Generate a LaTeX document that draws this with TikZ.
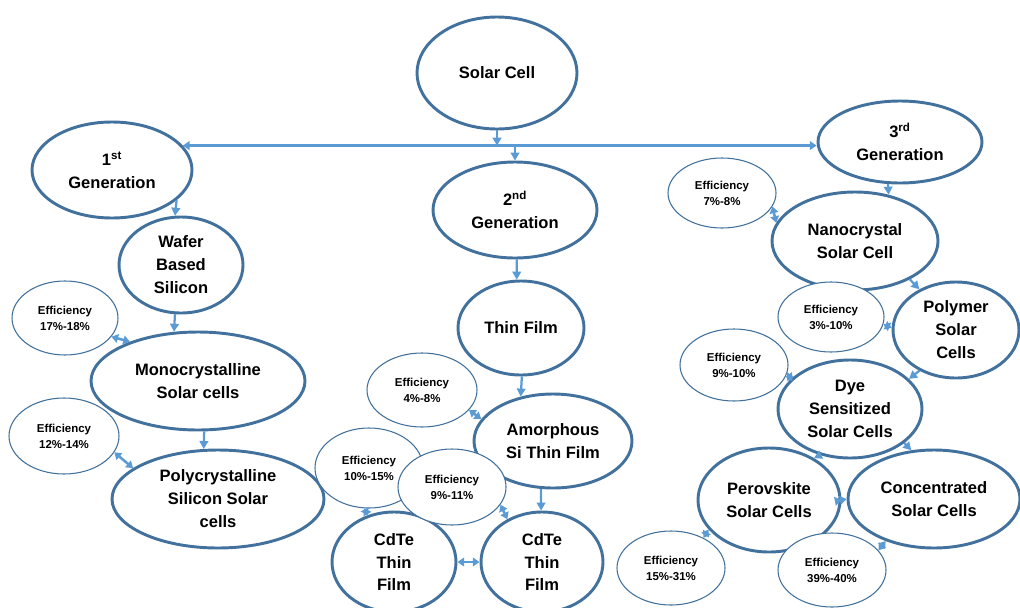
\documentclass[tikz,border=0pt]{standalone}
\usepackage{fontspec}
\setmainfont{Liberation Sans}
\usetikzlibrary{shapes.geometric, arrows.meta}
\definecolor{rim}{HTML}{41719C}
\definecolor{link}{HTML}{5B9BD5}

\begin{document}
\begin{tikzpicture}[x=0.75pt, y=-0.75pt,
        sz/.style 2 args={minimum width=#1*1.5pt, minimum height=#2*1.5pt},
        cell/.style={ellipse, draw=rim, line width=2.2pt, fill=white, inner sep=0pt,
                     align=center, font=\bfseries\fontsize{12.4}{17.2}\selectfont},
        eff/.style={ellipse, draw=rim, line width=0.8pt, fill=white, inner sep=0pt,
                    align=center, font=\bfseries\fontsize{8.6}{12}\selectfont},
        arr/.style={-{Triangle[length=6pt,width=6.5pt]}, draw=link, line width=1.7pt},
        darr/.style={{Triangle[length=5pt,width=6.5pt]}-{Triangle[length=5pt,width=6.5pt]},
                     draw=link, line width=1.9pt}
    ]
        \useasboundingbox (0,0) rectangle (1020,607);

        % main cells
        \node[cell, sz={80}{56}] (solar) at (497, 73) {Solar Cell};
        \node[cell, sz={80}{48}] (gen1) at (112,170) {1\textsuperscript{st}\\Generation};
        \node[cell, sz={82}{48}] (gen2) at (515,210) {2\textsuperscript{nd}\\Generation};
        \node[cell, sz={82}{41}] (gen3) at (900,142) {3\textsuperscript{rd}\\Generation};

        \node[cell, sz={62}{48}] (wafer) at (181,265) {Wafer\\Based\\Silicon};
        \node[cell, sz={107}{49}] (mono) at (198,381) {Monocrystalline\\Solar cells};
        \node[cell, sz={106}{49}] (poly) at (218,499) {Polycrystalline\\Silicon Solar\\cells};

        \node[cell, sz={63}{47}] (thin) at (521,328) {Thin Film};
        \node[cell, sz={79}{47}] (amor) at (553,441) {Amorphous\\Si Thin Film};
        \node[cell, sz={62}{50}] (cdte1) at (394,562) {CdTe\\Thin\\Film};
        \node[cell, sz={61}{50}] (cdte2) at (542,562) {CdTe\\Thin\\Film};

        \node[cell, sz={83}{49}] (nano) at (855,241) {Nanocrystal\\Solar Cell};
        \node[cell, sz={63}{48}] (polym) at (956,330) {Polymer\\Solar\\Cells};
        \node[cell, sz={72}{49}] (dye) at (850,409) {Dye\\Sensitized\\Solar Cells};
        \node[cell, sz={71}{52}] (perov) at (769,500) {Perovskite\\Solar Cells};
        \node[cell, sz={86}{49}] (conc) at (934,499) {Concentrated\\Solar Cells};

        % efficiency bubbles
        \node[eff, sz={53}{37}] (eff17) at (65,318) {Efficiency\\17\%-18\%};
        \node[eff, sz={55}{38}] (eff12) at (64,436) {Efficiency\\12\%-14\%};
        \node[eff, sz={55}{37}] (eff4) at (422,390) {Efficiency\\4\%-8\%};
        \node[eff, sz={54}{40}] (eff10) at (369,468) {Efficiency\\10\%-15\%};
        \node[eff, sz={54}{38}] (eff9) at (452,487) {Efficiency\\9\%-11\%};
        \node[eff, sz={54}{35}] (eff7) at (722,193) {Efficiency\\7\%-8\%};
        \node[eff, sz={53}{35}] (eff3) at (831,317) {Efficiency\\3\%-10\%};
        \node[eff, sz={54}{36}] (eff910) at (734,365) {Efficiency\\9\%-10\%};
        \node[eff, sz={54}{37}] (eff15) at (671,568) {Efficiency\\15\%-31\%};
        \node[eff, sz={54}{37}] (eff39) at (832,570) {Efficiency\\39\%-40\%};

        % generation branches
        \coordinate (hub) at (solar.south |- gen1.19);
        \draw[darr, line width=2.2pt] (gen1.19) -- (gen1.19 -| gen3.west);
        \draw[arr] (solar.south) -- (hub);
        \draw[arr] (gen2.north |- hub) -- (gen2.north);

        % 1st generation
        \draw[arr] (gen1.-25) -- (wafer.97);
        \draw[arr] (wafer.-97) -- (mono.116);
        \draw[arr] (mono.-83) -- (poly.106);
        \draw[darr] (eff17.-22) -- (mono.150);
        \draw[darr] (eff12.-18) -- (poly.160);

        % 2nd generation
        \draw[arr] (gen2.-88) -- (thin.95);
        \draw[arr] (thin.-89) -- (amor.126);
        \draw[arr] (amor.-104) -- (cdte2.91);
        \draw[darr] (cdte1.east) -- (cdte2.west);
        \draw[darr] (eff4.-23) -- (amor.163);
        \draw[darr] (eff10.-97) -- (cdte1.119);
        \draw[darr] (eff9.-20) -- (cdte2.129);

        % 3rd generation
        \draw[arr] (gen3.-106) -- (nano.54);
        \draw[arr] (nano.-35) -- (polym.132);
        \draw[arr] (polym.-132) -- (dye.27);
        \draw[arr] (dye.-123) -- (perov.43);
        \draw[arr] (dye.-32) -- (conc.115);
        \draw[darr] (perov.east) -- (conc.west);
        \draw[darr] (eff7.-15) -- (nano.167);
        \draw[darr] (eff3.-8) -- (polym.178);
        \draw[darr] (eff910.-13) -- (dye.150);
        \draw[darr] (eff15.43) -- (perov.-154);
        \draw[darr] (eff39.23) -- (conc.-139);
    \end{tikzpicture}
\end{document}
